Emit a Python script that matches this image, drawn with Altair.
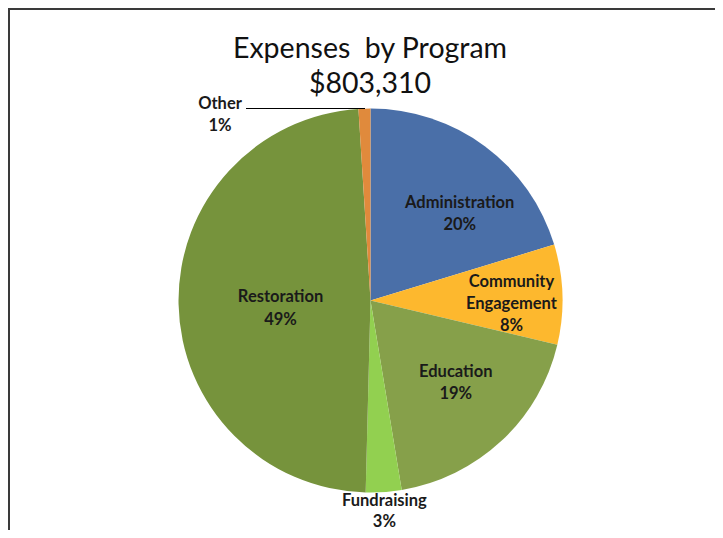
import math
import altair as alt
import pandas as pd

# ---- data ----
categories = ["Administration", "Community Engagement", "Education",
              "Fundraising", "Restoration", "Other"]
label_names = ["Administration", "Community\nEngagement", "Education",
               "Fundraising", "Restoration", "Other"]
values = [20.3, 8.4, 18.7, 3.0, 48.6, 1.0]   # percent of total expenses
colors = ["#4A6FA8", "#FDB82E", "#86A04A", "#92D050", "#76933C", "#E08A3C"]
title_lines = ["Expenses\u00a0 by Program", "$803,310"]

total = sum(values)
df = pd.DataFrame({
    "category": categories,
    "value": values,
    "order": list(range(len(categories))),
    "label": [f"{n}\n{round(v / total * 100)}%" for n, v in zip(label_names, values)],
})

W, H = 707, 522
CX, CY, R = 362.5, 292.5, 192
FONT = "Lato"
LBL = dict(font=FONT, fontSize=16.5, fontWeight="bold", color="#1a1a1a",
           align="center", baseline="middle", lineBreak="\n", lineHeight=22)

color_scale = alt.Scale(domain=categories, range=colors)

pie = alt.Chart(df).mark_arc(radius=R, stroke=None).encode(
    theta=alt.Theta("value:Q", stack=True),
    order=alt.Order("order:Q"),
    color=alt.Color("category:N", scale=color_scale, legend=None),
    x=alt.value(CX),
    y=alt.value(CY),
)

base_txt = alt.Chart(df).transform_window(
    cum="sum(value)", sort=[{"field": "order"}], frame=[None, 0]
).transform_calculate(mid="datum.cum - datum.value / 2")

theta_mid = alt.Theta("mid:Q", stack=None,
                      scale=alt.Scale(domain=[0, total], range=[0, 2 * math.pi]))


def label_layer(cat, radius, dx=0, dy=0, lh=22):
    opts = dict(LBL)
    opts["lineHeight"] = lh
    return base_txt.transform_filter(
        alt.datum.category == cat
    ).mark_text(radius=radius, dx=dx, dy=dy, **opts).encode(
        theta=theta_mid, text="label:N", x=alt.value(CX), y=alt.value(CY))


lbl_admin = label_layer("Administration", 128, dx=13, dy=5)
lbl_comm = label_layer("Community Engagement", 141, dx=0, dy=-14)
lbl_edu = label_layer("Education", 125, dx=0, dy=-20)
lbl_resto = label_layer("Restoration", 92, dx=2, dy=-5, lh=23)
lbl_fund = label_layer("Fundraising", 201, dx=0, dy=0, lh=21)

other_lbl = alt.Chart(df).transform_filter(
    alt.datum.category == "Other"
).mark_text(**LBL).encode(text="label:N", x=alt.value(212), y=alt.value(96))

one = pd.DataFrame({"k": [0]})
leader = alt.Chart(one).mark_rule(color="#000000", strokeWidth=1).encode(
    x=alt.value(238), x2=alt.value(357), y=alt.value(100.5))

title1 = alt.Chart(one).mark_text(
    font=FONT, fontSize=28.5, color="#111111", align="center", baseline="middle"
).encode(text=alt.value(title_lines[0]), x=alt.value(362), y=alt.value(41))
title2 = alt.Chart(one).mark_text(
    font=FONT, fontSize=28.5, color="#111111", align="center", baseline="middle"
).encode(text=alt.value(title_lines[1]), x=alt.value(362), y=alt.value(76))

frame_top = alt.Chart(one).mark_rule(color="#3a3a3a", strokeWidth=2).encode(
    x=alt.value(0), x2=alt.value(W), y=alt.value(1))
frame_left = alt.Chart(one).mark_rule(color="#3a3a3a", strokeWidth=2).encode(
    x=alt.value(1), y=alt.value(0), y2=alt.value(H))

chart = alt.layer(
    pie, lbl_admin, lbl_comm, lbl_edu, lbl_resto, lbl_fund, other_lbl,
    leader, title1, title2, frame_top, frame_left
).properties(
    width=W, height=H, autosize=alt.AutoSizeParams(type="none"), padding=0
).configure_view(stroke=None).configure(background="white")

chart.save("out.html", embed_options={"renderer": "svg", "actions": False})
